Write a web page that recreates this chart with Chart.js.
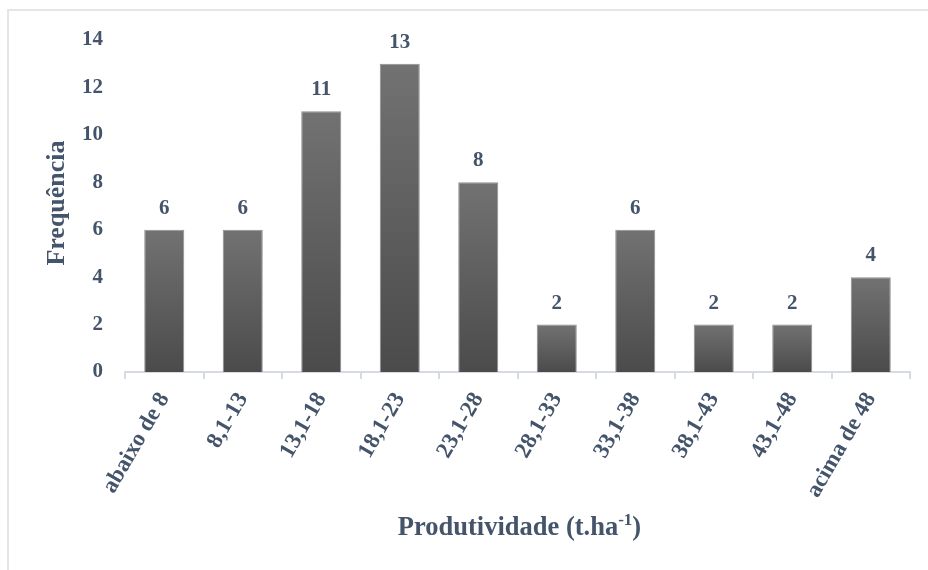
<!DOCTYPE html>
<html>
<head>
<meta charset="utf-8">
<script src="https://cdn.jsdelivr.net/npm/chart.js@4.4.0/dist/chart.umd.min.js"></script>
<style>
  html, body { margin: 0; padding: 0; background: #fff; }
  #wrap { position: relative; width: 928px; height: 570px; overflow: hidden; }
  #frame { position: absolute; left: 7px; top: 9px; width: 960px; height: 600px;
           border-top: 2px solid #e2e5ea; border-left: 2px solid #e2e5ea; pointer-events: none; }
  canvas { position: absolute; left: 0; top: 0; }
</style>
</head>
<body>
<div id="wrap">
  <canvas id="grafico" width="928" height="570"></canvas>
  <div id="frame"></div>
</div>
<script>
// Dados do gráfico
const classes = ['abaixo de 8', '8,1-13', '13,1-18', '18,1-23', '23,1-28', '28,1-33', '33,1-38', '38,1-43', '43,1-48', 'acima de 48'];
const frequencias = [6, 6, 11, 13, 8, 2, 6, 2, 2, 4];
const ticksY = [0, 2, 4, 6, 8, 10, 12, 14];

const corTexto = '#44546a';
const fonte = 'Liberation Serif, Times New Roman, serif';

// gradiente por barra (mais claro no topo)
function corBarra(context) {
    const chart = context.chart;
    const y = chart.scales && chart.scales.y;
    if (!chart.chartArea || !y) return '#5e5e5e';
    const topo = y.getPixelForValue(context.raw);
    const base = y.getPixelForValue(0);
    if (!isFinite(topo) || !isFinite(base) || topo === base) return '#5e5e5e';
    const g = chart.ctx.createLinearGradient(0, topo, 0, base);
    g.addColorStop(0, '#727272');
    g.addColorStop(1, '#4b4b4b');
    return g;
}

// rótulos de valor e títulos dos eixos
const rotulos = {
    id: 'rotulos',
    afterDatasetsDraw(chart) {
        const ctx = chart.ctx;
        const meta = chart.getDatasetMeta(0);
        ctx.save();
        ctx.fillStyle = corTexto;
        ctx.font = 'bold 21px ' + fonte;
        ctx.textAlign = 'center';
        ctx.textBaseline = 'alphabetic';
        meta.data.forEach(function(bar, i) {
            ctx.fillText(String(frequencias[i]), bar.x, bar.y - 16);
        });

        // título do eixo X com sobrescrito
        const area = chart.chartArea;
        const cx = (area.left + area.right) / 2;
        const principal = 'Produtividade (t.ha';
        const sup = '-1';
        const fim = ')';
        ctx.font = 'bold 26.5px ' + fonte;
        const w1 = ctx.measureText(principal).width;
        const w3 = ctx.measureText(fim).width;
        ctx.font = 'bold 17px ' + fonte;
        const w2 = ctx.measureText(sup).width;
        let x = cx - (w1 + w2 + w3) / 2 + 2;
        const yb = 535;
        ctx.textAlign = 'left';
        ctx.font = 'bold 26.5px ' + fonte;
        ctx.fillText(principal, x, yb);
        x += w1;
        ctx.font = 'bold 17px ' + fonte;
        ctx.fillText(sup, x, yb - 10);
        x += w2;
        ctx.font = 'bold 26.5px ' + fonte;
        ctx.fillText(fim, x, yb);

        // título do eixo Y
        ctx.translate(64, (area.top + area.bottom) / 2 - 3);
        ctx.rotate(-Math.PI / 2);
        ctx.textAlign = 'center';
        ctx.font = 'bold 26px ' + fonte;
        ctx.fillText('Frequência', 0, 0);
        ctx.restore();
    }
};

function grafico() {
    const ctx = document.getElementById('grafico').getContext('2d');
    new Chart(ctx, {
        type: 'bar',
        data: {
            labels: classes,
            datasets: [{
                data: frequencias,
                backgroundColor: corBarra,
                borderColor: '#8e8e8e',
                borderWidth: 1,
                categoryPercentage: 1,
                barPercentage: 0.51
            }]
        },
        options: {
            responsive: false,
            animation: false,
            layout: { padding: { top: 40, right: 18, left: 0, bottom: 0 } },
            plugins: {
                legend: { display: false },
                tooltip: { enabled: false }
            },
            scales: {
                x: {
                    grid: {
                        display: true,
                        drawOnChartArea: false,
                        drawTicks: true,
                        tickLength: 7,
                        offset: true,
                        color: '#d6dbe3',
                        lineWidth: 2
                    },
                    border: { display: true, color: '#d6dbe3', width: 2 },
                    ticks: {
                        color: corTexto,
                        font: { family: fonte, size: 23, weight: 'bold' },
                        minRotation: 60,
                        maxRotation: 60,
                        padding: 9,
                        autoSkip: false
                    },
                    afterFit(scale) { scale.height = 198; }
                },
                y: {
                    min: 0,
                    max: 14,
                    grid: { display: false, drawTicks: false },
                    border: { display: false },
                    afterBuildTicks(scale) {
                        scale.ticks = ticksY.map(function(v) { return { value: v }; });
                    },
                    ticks: {
                        color: corTexto,
                        font: { family: fonte, size: 21, weight: 'bold' },
                        padding: 22
                    },
                    afterFit(scale) { scale.width = 125; }
                }
            }
        },
        plugins: [rotulos]
    });
}

document.addEventListener('DOMContentLoaded', function() {
    grafico();
});
</script>
</body>
</html>
